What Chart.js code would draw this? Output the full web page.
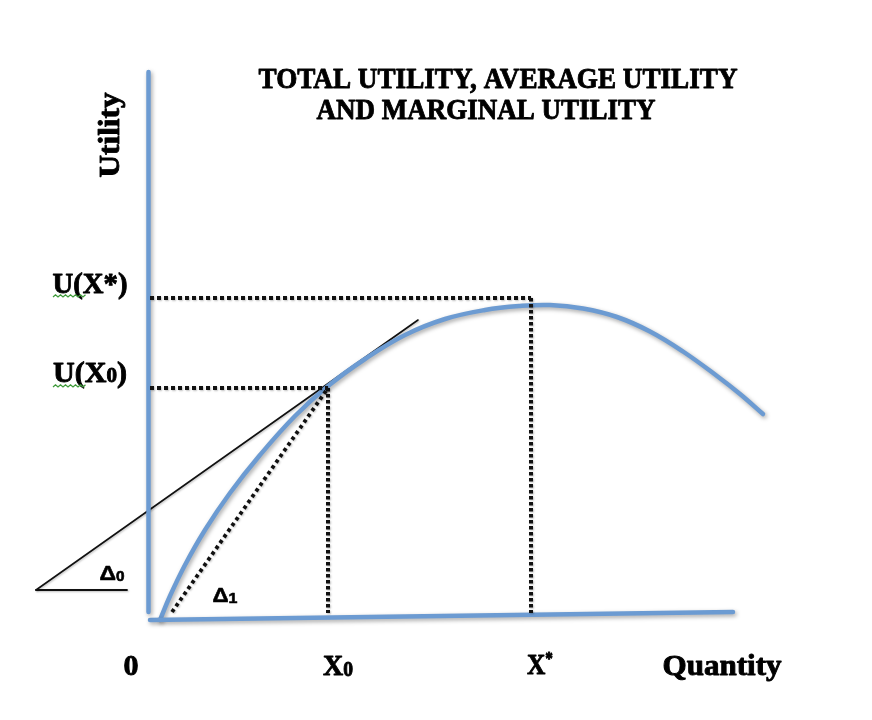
<!DOCTYPE html>
<html>
<head>
<meta charset="utf-8">
<script src="https://cdn.jsdelivr.net/npm/chart.js@4.4.1/dist/chart.umd.min.js"></script>
<style>
  html, body { margin: 0; padding: 0; background: #ffffff; }
  #wrap { width: 872px; height: 720px; }
</style>
</head>
<body>
<div id="wrap"><canvas id="c" width="872" height="720"></canvas></div>
<script>
// ---- Data (diagram units: origin at the corner of the axes) ----
const X0 = 17.8;          // quantity X0
const U_X0 = 22.7;        // utility at X0
const XSTAR = 38.1;       // quantity X*
const U_XSTAR = 31.7;     // utility level at X*

// Total utility curve
const tuX = [1.0, 2.0, 3.5, 5.5, 8.0, 11.0, 14.5, 17.8, 21.5, 25.5, 29.5, 33.5, 37.0, 40.0, 43.3, 46.7, 50.0, 53.3, 56.7, 59.0, 61.3];
const tuY = [-0.5, 1.9, 5.0, 8.5, 12.2, 16.0, 19.9, 22.9, 25.6, 28.0, 29.6, 30.5, 30.9, 31.0, 30.65, 29.8, 28.35, 26.35, 23.9, 22.1, 20.1];

// Axes lines
const utilityAxisX = [-0.15, -0.15];
const utilityAxisY = [0.3, 54.3];
const quantityAxisX = [0.0, 58.3];
const quantityAxisY = [-0.5, 0.3];

// Tangent line at X0 and its angle base (Δ0)
const tangentX = [-11.4, 26.8];
const tangentY = [2.5, 29.5];
const delta0BaseX = [-11.4, -2.3];
const delta0BaseY = [2.5, 2.5];

// Ray from origin to the point (X0, U(X0)) (Δ1)
const rayX = [2.2, X0];
const rayY = [0.3, U_X0];

// Dotted guide lines
const guideX0hX = [0, X0],     guideX0hY = [U_X0, U_X0];
const guideX0vX = [X0, X0],    guideX0vY = [U_X0, 0.2];
const guideXshX = [0, XSTAR],  guideXshY = [U_XSTAR, U_XSTAR];
const guideXsvX = [XSTAR, XSTAR], guideXsvY = [U_XSTAR, 0.2];

// Texts
const titleLines = ['TOTAL UTILITY, AVERAGE UTILITY', 'AND MARGINAL UTILITY'];
const yAxisTitle = 'Utility';
const xAxisTitle = 'Quantity';

const zip = (xs, ys) => xs.map((x, i) => ({ x: x, y: ys[i] }));

const BLUE = '#6c9bd2';
const BLACK = '#111111';

function lineSet(xs, ys, color, width, dash, shadow) {
  return {
    data: zip(xs, ys),
    showLine: true,
    borderColor: color,
    backgroundColor: color,
    borderWidth: width,
    borderDash: dash || [],
    borderCapStyle: dash ? 'butt' : 'round',
    pointRadius: 0,
    pointHoverRadius: 0,
    fill: false,
    tension: 0,
    shadow: !!shadow
  };
}

const datasets = [
  lineSet(guideXshX, guideXshY, BLACK, 4, [4, 3]),
  lineSet(guideXsvX, guideXsvY, BLACK, 4, [3.5, 2.5]),
  lineSet(guideX0hX, guideX0hY, BLACK, 4, [4, 3]),
  lineSet(guideX0vX, guideX0vY, BLACK, 4, [3.5, 2.5]),
  lineSet(rayX, rayY, BLACK, 3.8, [3.5, 3.5]),
  lineSet(utilityAxisX, utilityAxisY, BLUE, 4.5, null, true),
  lineSet(quantityAxisX, quantityAxisY, BLUE, 4.5, null, true),
  Object.assign(lineSet(tuX, tuY, BLUE, 4.5, null, true), { tension: 0.4 }),
  lineSet(tangentX, tangentY, BLACK, 1.6),
  lineSet(delta0BaseX, delta0BaseY, BLACK, 1.8)
];

const shadowPlugin = {
  id: 'softShadow',
  beforeDatasetDraw(chart, args) {
    const ds = chart.data.datasets[args.index];
    const ctx = chart.ctx;
    ctx.save();
    if (ds.shadow) {
      ctx.shadowColor = 'rgba(0,0,0,0.35)';
      ctx.shadowBlur = 4;
      ctx.shadowOffsetX = 1.5;
      ctx.shadowOffsetY = 2;
    } else {
      ctx.shadowColor = 'rgba(0,0,0,0.25)';
      ctx.shadowBlur = 2;
      ctx.shadowOffsetX = 1;
      ctx.shadowOffsetY = 1;
    }
  },
  afterDatasetDraw(chart) {
    chart.ctx.restore();
  }
};

const SERIF = '"Liberation Serif", "Times New Roman", serif';
const SANS = '"Liberation Sans", Arial, sans-serif';

// runs: [{t, size, dy, family}] drawn centered at cx with given baseline, stretched to width w
function drawRuns(ctx, runs, cx, baseline, w, heavy) {
  let total = 0;
  runs.forEach(r => {
    ctx.font = 'bold ' + r.size + 'px ' + (r.family || SERIF);
    r.w = ctx.measureText(r.t).width;
    total += r.w;
  });
  const s = w ? w / total : 1;
  ctx.save();
  ctx.translate(cx, baseline);
  ctx.scale(s, 1);
  let x = -total / 2;
  ctx.textAlign = 'left';
  ctx.textBaseline = 'alphabetic';
  ctx.strokeStyle = ctx.fillStyle;
  ctx.lineJoin = 'round';
  ctx.lineWidth = heavy === undefined ? 0.9 : heavy;
  runs.forEach(r => {
    ctx.font = 'bold ' + r.size + 'px ' + (r.family || SERIF);
    ctx.fillText(r.t, x, r.dy || 0);
    if (ctx.lineWidth > 0) ctx.strokeText(r.t, x, r.dy || 0);
    x += r.w;
  });
  ctx.restore();
}

function squiggle(ctx, x1, x2, y) {
  ctx.save();
  ctx.strokeStyle = '#3f9a3a';
  ctx.lineWidth = 1.3;
  ctx.beginPath();
  let up = true;
  ctx.moveTo(x1, y);
  for (let x = x1 + 2.5; x <= x2; x += 2.5) {
    ctx.lineTo(x, up ? y - 2.2 : y);
    up = !up;
  }
  ctx.stroke();
  ctx.restore();
}

const labelPlugin = {
  id: 'labels',
  afterDraw(chart) {
    const ctx = chart.ctx;
    const sx = chart.scales.x, sy = chart.scales.y;
    ctx.save();
    ctx.fillStyle = '#000000';

    // Title
    drawRuns(ctx, [{ t: titleLines[0], size: 30 }], 498, 88, 479);
    drawRuns(ctx, [{ t: titleLines[1], size: 30 }], 486, 119, 339);

    // Y axis title (rotated)
    ctx.save();
    ctx.translate(119, 135);
    ctx.rotate(-Math.PI / 2);
    drawRuns(ctx, [{ t: yAxisTitle, size: 30 }], 0, 0, 85);
    ctx.restore();

    // Utility level labels
    const yXs = sy.getPixelForValue(U_XSTAR);
    const yX0 = sy.getPixelForValue(U_X0);
    drawRuns(ctx, [{ t: 'U(X*)', size: 30 }], 90, yXs - 5, 75);
    squiggle(ctx, 53, 86, yXs - 1);
    drawRuns(ctx, [{ t: 'U(X', size: 30 }, { t: '0', size: 21 }, { t: ')', size: 30 }], 90, yX0 - 6, 74);
    squiggle(ctx, 53, 86, yX0 - 1);

    // Quantity labels
    const base = 675;
    drawRuns(ctx, [{ t: '0', size: 30 }], sx.getPixelForValue(-1.9), base, 15);
    drawRuns(ctx, [{ t: 'X', size: 30 }, { t: '0', size: 21, dy: 1 }], sx.getPixelForValue(X0) + 10, base, 30);
    drawRuns(ctx, [{ t: 'X', size: 30 }, { t: '*', size: 18, dy: -9 }], sx.getPixelForValue(XSTAR) + 9, base - 1, 26);
    drawRuns(ctx, [{ t: xAxisTitle, size: 30 }], 722, base, 119);

    // Angle labels
    drawRuns(ctx, [{ t: 'Δ', size: 21, family: SANS }, { t: '0', size: 14, family: SANS, dy: 1 }], 112, 580, 25, 0.6);
    drawRuns(ctx, [{ t: 'Δ', size: 21, family: SANS }, { t: '1', size: 15, family: SANS, dy: 1 }], 225, 602, 25, 0.6);

    ctx.restore();
  }
};

new Chart(document.getElementById('c'), {
  type: 'scatter',
  data: { datasets: datasets },
  options: {
    responsive: false,
    animation: false,
    layout: { padding: 0 },
    plugins: {
      legend: { display: false },
      tooltip: { enabled: false },
      title: { display: false }
    },
    events: [],
    scales: {
      x: { type: 'linear', min: -15, max: 72.2, display: false },
      y: { type: 'linear', min: -10.5, max: 61.5, display: false }
    }
  },
  plugins: [shadowPlugin, labelPlugin]
});
</script>
</body>
</html>
